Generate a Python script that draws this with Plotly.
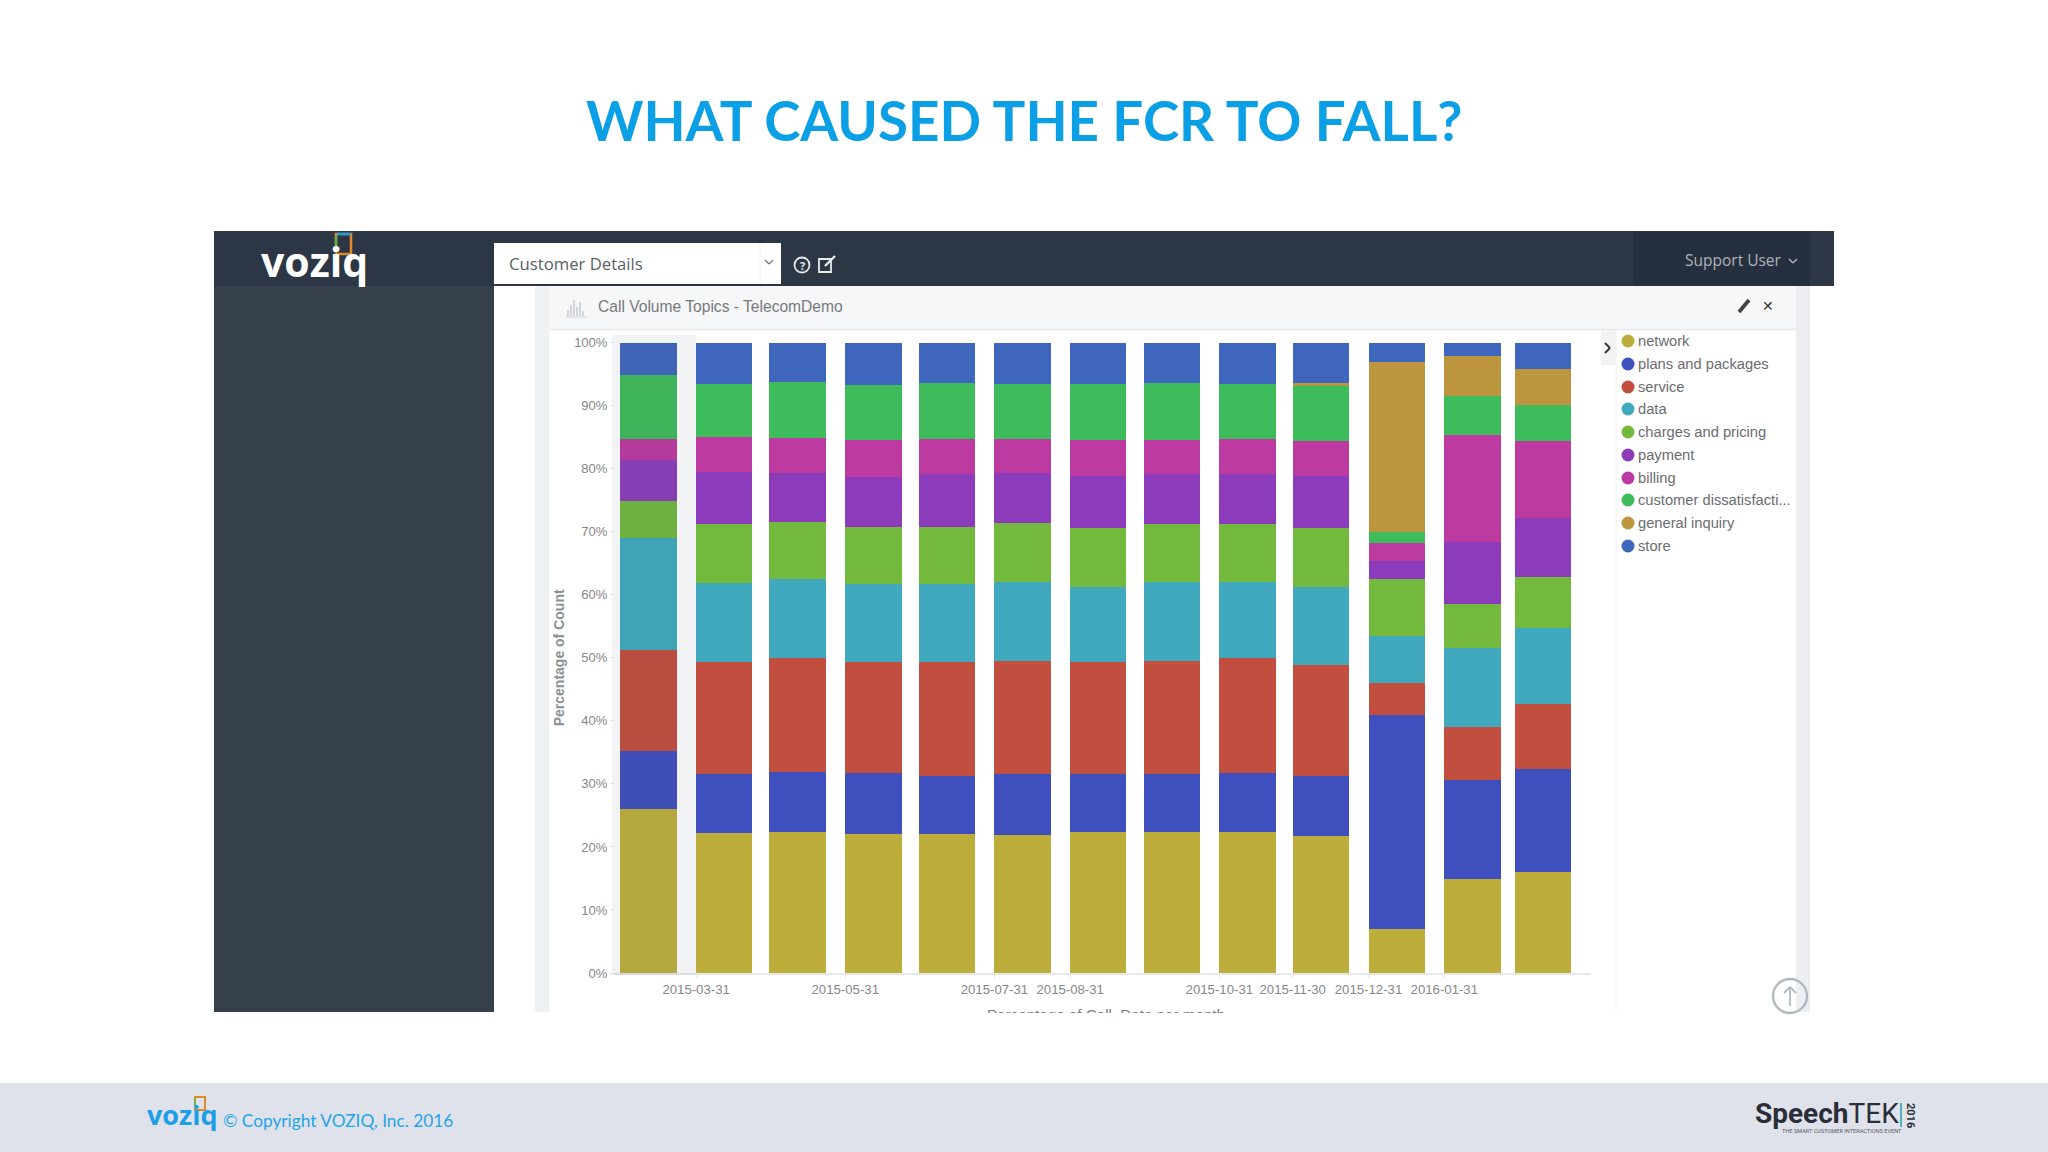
import plotly.graph_objects as go

W, H = 2048, 1152

months = ["2015-02-28","2015-03-31","2015-04-30","2015-05-31","2015-06-30","2015-07-31",
          "2015-08-31","2015-09-30","2015-10-31","2015-11-30","2015-12-31","2016-01-31","2016-02-29"]
tick_dates = ["2015-03-31","2015-05-31","2015-07-31","2015-08-31","2015-10-31","2015-11-30","2015-12-31","2016-01-31"]
y_ticks = [0,10,20,30,40,50,60,70,80,90,100]
y_labels = ["0%","10%","20%","30%","40%","50%","60%","70%","80%","90%","100%"]

network  = [26,22.2,22.3,22.1,22,21.9,22.4,22.3,22.4,21.7,7,14.9,16]
plans    = [9.2,9.3,9.6,9.6,9.3,9.6,9.1,9.2,9.3,9.6,34,15.7,16.3]
service  = [16.1,17.8,18,17.6,18,18,17.8,18,18.2,17.6,5,8.5,10.3]
data_    = [17.7,12.6,12.6,12.4,12.4,12.6,12,12.6,12.2,12.4,7.4,12.5,12.1]
charges  = [5.9,9.4,9.1,9.1,9.1,9.3,9.3,9.1,9.1,9.3,9.1,7,8.2]
payment  = [6.5,8.2,7.8,7.9,8.3,7.9,8.2,7.9,7.9,8.2,2.9,9.75,9.3]
billing  = [3.25,5.5,5.5,5.85,5.55,5.45,5.75,5.45,5.65,5.6,2.75,16.95,12.25]
customer = [10.25,8.5,8.8,8.75,9,8.65,8.95,9.1,8.75,8.8,1.75,6.2,5.6]
general  = [0,0,0,0,0,0,0,0,0,0.45,27,6.4,5.85]
store    = [5.1,6.5,6.3,6.7,6.35,6.6,6.5,6.35,6.5,6.35,3.1,2.1,4.1]

series_names = ["network","plans and packages","service","data","charges and pricing","payment",
                "billing","customer dissatisfacti...","general inquiry","store"]
series_values = [network,plans,service,data_,charges,payment,billing,customer,general,store]
series_colors = ["#bdae3c","#3f4fbe","#c14e3e","#40a9bd","#72b93e","#8c3cba","#bd3aa0","#3ebb5a","#bc953e","#3f66bd"]

DAY = 86400000
fig = go.Figure()
for n, v, c in zip(series_names, series_values, series_colors):
    fig.add_bar(x=months, y=v, name=n, marker=dict(color=c, line=dict(width=0)),
                width=23*DAY, offset=0, showlegend=False)

def X(p): return p/W
def Y(p): return 1-p/H
shapes, ann = [], []
def rect(x0,y0,x1,y1,fill,layer="below",line=None,w=0):
    shapes.append(dict(type="rect",xref="paper",yref="paper",x0=X(x0),x1=X(x1),y0=Y(y0),y1=Y(y1),
                       fillcolor=fill,line=dict(width=w,color=line or fill),layer=layer))
def seg(x0,y0,x1,y1,col,w=1.5,layer="above"):
    shapes.append(dict(type="line",xref="paper",yref="paper",x0=X(x0),x1=X(x1),y0=Y(y0),y1=Y(y1),
                       line=dict(color=col,width=w),layer=layer))
def circ(cx,cy,r,fill,line=None,w=0,layer="above"):
    shapes.append(dict(type="circle",xref="paper",yref="paper",x0=X(cx-r),x1=X(cx+r),y0=Y(cy+r),y1=Y(cy-r),
                       fillcolor=fill,line=dict(width=w,color=line or fill),layer=layer))
def text(x,y,t,size,col,font="Open Sans",xa="left",ya="middle",**kw):
    ann.append(dict(xref="paper",yref="paper",x=X(x),y=Y(y),text=t,showarrow=False,xanchor=xa,yanchor=ya,
                    font=dict(size=size,color=col,family=font),borderpad=0,borderwidth=0,**kw))

# slide chrome
rect(0,1083,2048,1152,"#dfe2ea")
rect(214,231,494,1012,"#363f4c")
rect(214,231,1834,286,"#2c3645")
rect(1633,231,1810,286,"#262f3d")
rect(535,286,549,1012,"#f0f1f3")
rect(549,286,1796,329,"#f6f7f8")
seg(549,329.5,1796,329.5,"#e6e8eb",1.5,"below")
rect(1796,286,1810,1012,"#eceef1")
seg(1616,330,1616,1012,"#f1f2f4",1.2,"below")
rect(1601,330,1616,365,"#f1f2f4")
rect(494,243,781,284,"#ffffff")
seg(760,243,760,284,"#eeeeee",1)
# band of shade on the first column
rect(612,335,696,975,"rgba(70,80,100,0.07)","above")

# logo marks
shapes.append(dict(type="rect",xref="paper",yref="paper",x0=X(336),x1=X(351),y0=Y(254),y1=Y(234),
                   fillcolor="rgba(0,0,0,0)",line=dict(color="#e08a2a",width=2.5),layer="above"))
seg(337,234,351,234,"#1f9ee0",2.5)
seg(336,236,336,252,"#5fb04a",2.5)
shapes.append(dict(type="rect",xref="paper",yref="paper",x0=X(195),x1=X(205),y0=Y(1110),y1=Y(1097),
                   fillcolor="rgba(0,0,0,0)",line=dict(color="#e08a2a",width=2),layer="above"))
seg(195,1098,195,1109,"#6fb44a",2)

text(1023.5,120,"<b>WHAT CAUSED THE FCR TO FALL?</b>",54.7,"#0b9fe6","Lato",xa="center")
text(314,261,"<b>voziq</b>",41,"#ffffff","Open Sans",xa="center")
text(509,263,"Customer Details",16.7,"#5b5f66")
seg(765,260,769,264,"#777777",1.2); seg(769,264,773,260,"#777777",1.2)
circ(802,265,7.5,"rgba(0,0,0,0)","#e8eaec",1.8)
text(802,265.5,"<b>?</b>",11,"#e8eaec","Open Sans",xa="center")
shapes.append(dict(type="rect",xref="paper",yref="paper",x0=X(819),x1=X(831),y0=Y(272),y1=Y(259),
                   fillcolor="rgba(0,0,0,0)",line=dict(color="#e8eaec",width=1.8),layer="above"))
seg(825,266,835,256,"#e8eaec",2.4)
text(1685,260,"Support User",15.5,"#adb3bb")
seg(1789,259,1793,263,"#adb3bb",1.5); seg(1793,263,1797,259,"#adb3bb",1.5)

# widget header
for i,h in enumerate([6,11,16,9,14,5]):
    seg(568+3*i,316,568+3*i,316-h,"#c9cdd2",1.6)
seg(566,317,587,317,"#d5d8dc",1.2)
text(598,306,"Call Volume Topics - TelecomDemo",15.6,"#77797d","Liberation Sans")
seg(1739,312,1749,300,"#444444",3.8)
text(1768,306,"<b>✕</b>",14,"#333333","DejaVu Sans",xa="center")
seg(1605,343,1610,348,"#333333",1.8); seg(1610,348,1605,353,"#333333",1.8)

# legend
leg_y = [341,364,387,409,432,455,478,500,523,546]
for n,c,yy in zip(series_names,series_colors,leg_y):
    circ(1628,yy,6.5,c)
    text(1638,yy,n,14.7,"#6b6d70","Liberation Sans")

# scroll-to-top button
circ(1790,996,17,"rgba(255,255,255,0)","#b0b8c1",2.4)
seg(1790,1006,1790,987,"#b0b8c1",1.8)
seg(1784,993,1790,987,"#b0b8c1",1.8); seg(1796,993,1790,987,"#b0b8c1",1.8)

# clipped axis title
ann.append(dict(xref="paper",yref="paper",x=X(1106),y=Y(1005),text="Percentage of Call_Date per month",
                showarrow=False,xanchor="center",yanchor="top",valign="top",height=7,width=340,
                font=dict(size=15.2,color="#7d7d7d",family="Liberation Sans"),borderpad=0))

# footer
text(147,1114,"<b>voziq</b>",27,"#1c9fe6","Open Sans")
text(223,1120,"© Copyright VOZIQ, Inc. 2016",17.3,"#1fa5e8","Lato")
text(1755,1113,"<b>Speech</b>TEK",28,"#2a2e38","Roboto")
seg(1901,1103,1901,1127,"#4fb4b0",2)
text(1911,1115,"<b>2016</b>",11,"#2a2e38","Roboto",xa="center",textangle=90)
text(1782,1131,"THE SMART CUSTOMER INTERACTIONS EVENT",5.6,"#555a63","Roboto")

fig.update_layout(
    width=W, height=H, margin=dict(l=0,r=0,t=0,b=0,autoexpand=False), paper_bgcolor="#ffffff", plot_bgcolor="rgba(0,0,0,0)",
    barmode="stack", showlegend=False, shapes=shapes, annotations=ann,
    font=dict(family="Liberation Sans"),
    xaxis=dict(type="date", domain=[614/W,1591/W], range=["2015-02-25 10:00","2016-03-31"],
               tickvals=tick_dates, ticktext=tick_dates, tickfont=dict(size=13.2,color="#85878a"),
               ticks="outside", ticklen=3, tickcolor="#e3e4e6", showgrid=False, zeroline=False,
               showline=True, linecolor="#e6e7e9", linewidth=1.5),
    yaxis=dict(domain=[1-973/H,1-342.7/H], range=[0,100], tickvals=y_ticks, ticktext=y_labels,
               tickfont=dict(size=13,color="#85878a"), ticks="outside", ticklen=3, tickcolor="#e3e4e6",
               showgrid=False, zeroline=False, showline=False,
               title=dict(text="<b>Percentage of Count</b>", font=dict(size=14,color="#8d8f92"), standoff=6)),
)
fig.write_html("out.html", config={"displayModeBar":False},
               post_script="document.body.style.margin='0';document.documentElement.style.overflow='hidden';"
                           "var g=document.querySelector('.plotly-graph-div');g.style.position='fixed';g.style.top='0';g.style.left='0';")
